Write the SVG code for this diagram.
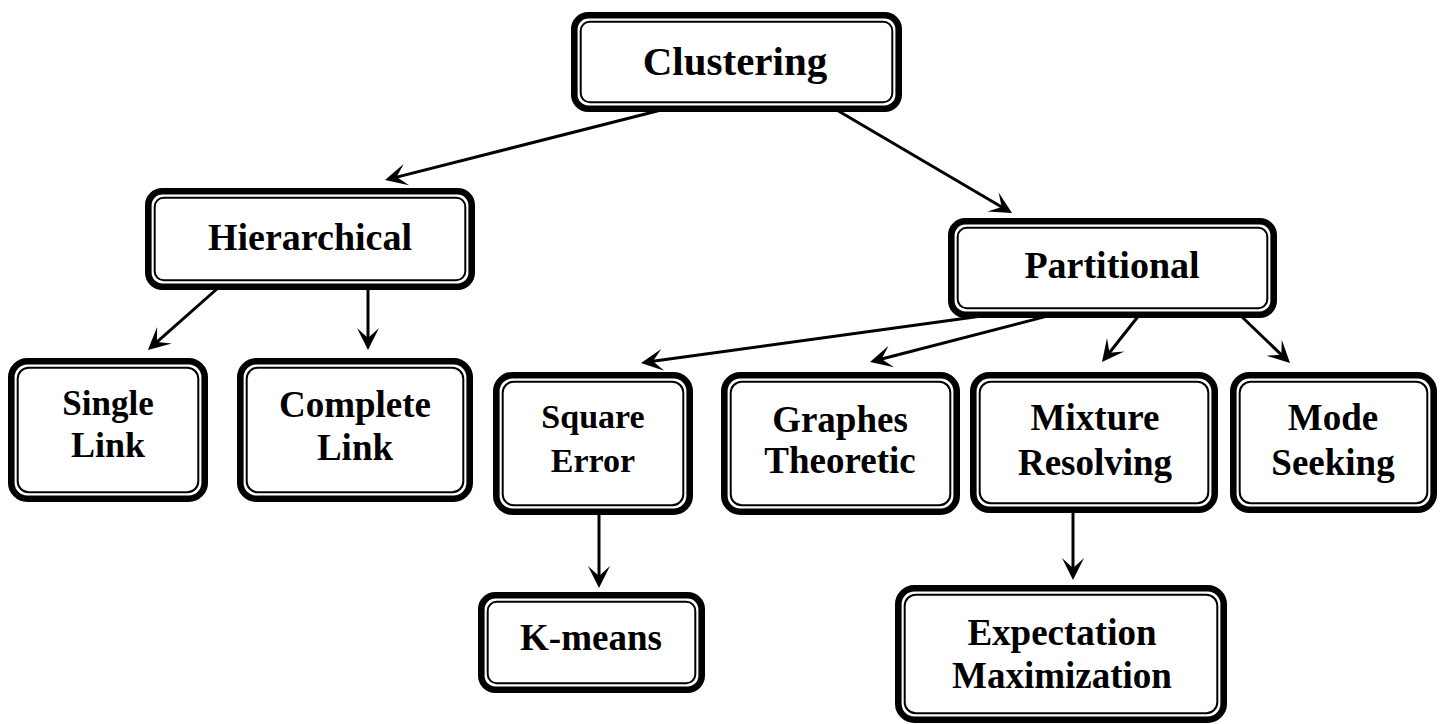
<svg xmlns="http://www.w3.org/2000/svg" width="1443" height="724" viewBox="0 0 1443 724">
<style>
.o{fill:#fff;stroke:#000;stroke-width:6.6}
.i{fill:none;stroke:#000;stroke-width:2}
.t{font-family:"Liberation Serif","Times New Roman",serif;font-weight:bold;font-size:37px;text-anchor:middle;fill:#000}
.c{fill:none;stroke:#000;stroke-width:3}
</style>
<defs>
<marker id="ah" markerUnits="userSpaceOnUse" orient="auto" refX="-10" refY="0" overflow="visible">
<path d="M0,0 L-22,-11 L-12,0 L-22,11 Z" fill="#000"/>
</marker>
</defs>
<rect width="1443" height="724" fill="#fff"/>
<g id="connectors">
<line class="c" x1="665" y1="109" x2="394.7" y2="177.6" marker-end="url(#ah)"/>
<line class="c" x1="835" y1="109" x2="1003.4" y2="208" marker-end="url(#ah)"/>
<line class="c" x1="218" y1="288" x2="155.4" y2="343.3" marker-end="url(#ah)"/>
<line class="c" x1="368" y1="288" x2="368" y2="340" marker-end="url(#ah)"/>
<line class="c" x1="1000" y1="313.5" x2="650.9" y2="361.6" marker-end="url(#ah)"/>
<line class="c" x1="1050" y1="315.4" x2="879.7" y2="359.5" marker-end="url(#ah)"/>
<line class="c" x1="1140" y1="314" x2="1108.2" y2="354.2" marker-end="url(#ah)"/>
<line class="c" x1="1240" y1="315" x2="1282.8" y2="356.1" marker-end="url(#ah)"/>
<line class="c" x1="599" y1="513" x2="599" y2="578" marker-end="url(#ah)"/>
<line class="c" x1="1073" y1="511" x2="1073" y2="570" marker-end="url(#ah)"/>
</g>
<g id="clustering">
<rect class="o" x="574.3" y="15.3" width="324.4" height="93.4" rx="14"/>
<rect class="i" x="580.7" y="21.7" width="311.6" height="80.6" rx="9"/>
<text class="t" x="735" y="75" style="font-size:41px">Clustering</text>
</g>
<g id="hierarchical">
<rect class="o" x="148.3" y="191.3" width="323.4" height="95.4" rx="14"/>
<rect class="i" x="154.7" y="197.7" width="310.6" height="82.6" rx="9"/>
<text class="t" x="310" y="250" style="font-size:38px">Hierarchical</text>
</g>
<g id="partitional">
<rect class="o" x="951.3" y="221.3" width="322.4" height="93.4" rx="14"/>
<rect class="i" x="957.7" y="227.7" width="309.6" height="80.6" rx="9"/>
<text class="t" x="1112" y="278" style="font-size:38px">Partitional</text>
</g>
<g id="single-link">
<rect class="o" x="11.3" y="361.3" width="193.4" height="137.4" rx="16"/>
<rect class="i" x="17.7" y="367.7" width="180.6" height="124.6" rx="11"/>
<text class="t" x="108" y="415" style="font-size:35px">Single</text>
<text class="t" x="108" y="457" style="font-size:36px">Link</text>
</g>
<g id="complete-link">
<rect class="o" x="240.3" y="361.3" width="229.4" height="137.4" rx="16"/>
<rect class="i" x="246.7" y="367.7" width="216.6" height="124.6" rx="11"/>
<text class="t" x="355" y="417">Complete</text>
<text class="t" x="355" y="460">Link</text>
</g>
<g id="square-error">
<rect class="o" x="496.3" y="375.3" width="193.4" height="136.4" rx="16"/>
<rect class="i" x="502.7" y="381.7" width="180.6" height="123.6" rx="11"/>
<text class="t" x="593" y="428" style="font-size:34px">Square</text>
<text class="t" x="593" y="472" style="font-size:34px">Error</text>
</g>
<g id="graphes-theoretic">
<rect class="o" x="724.3" y="375.3" width="232.4" height="136.4" rx="16"/>
<rect class="i" x="730.7" y="381.7" width="219.6" height="123.6" rx="11"/>
<text class="t" x="840" y="432">Graphes</text>
<text class="t" x="840" y="473">Theoretic</text>
</g>
<g id="mixture-resolving">
<rect class="o" x="973.3" y="375.3" width="241.4" height="134.4" rx="16"/>
<rect class="i" x="979.7" y="381.7" width="228.6" height="121.6" rx="11"/>
<text class="t" x="1095" y="430">Mixture</text>
<text class="t" x="1095" y="475">Resolving</text>
</g>
<g id="mode-seeking">
<rect class="o" x="1233.3" y="375.3" width="200.4" height="134.4" rx="16"/>
<rect class="i" x="1239.7" y="381.7" width="187.6" height="121.6" rx="11"/>
<text class="t" x="1333" y="430">Mode</text>
<text class="t" x="1333" y="475">Seeking</text>
</g>
<g id="k-means">
<rect class="o" x="481.3" y="595.3" width="220.4" height="94.4" rx="14"/>
<rect class="i" x="487.7" y="601.7" width="207.6" height="81.6" rx="9"/>
<text class="t" x="591" y="650">K-means</text>
</g>
<g id="expectation-maximization">
<rect class="o" x="898.3" y="588.3" width="325.4" height="131.4" rx="16"/>
<rect class="i" x="904.7" y="594.7" width="312.6" height="118.6" rx="11"/>
<text class="t" x="1062" y="645">Expectation</text>
<text class="t" x="1062" y="688">Maximization</text>
</g>
</svg>
